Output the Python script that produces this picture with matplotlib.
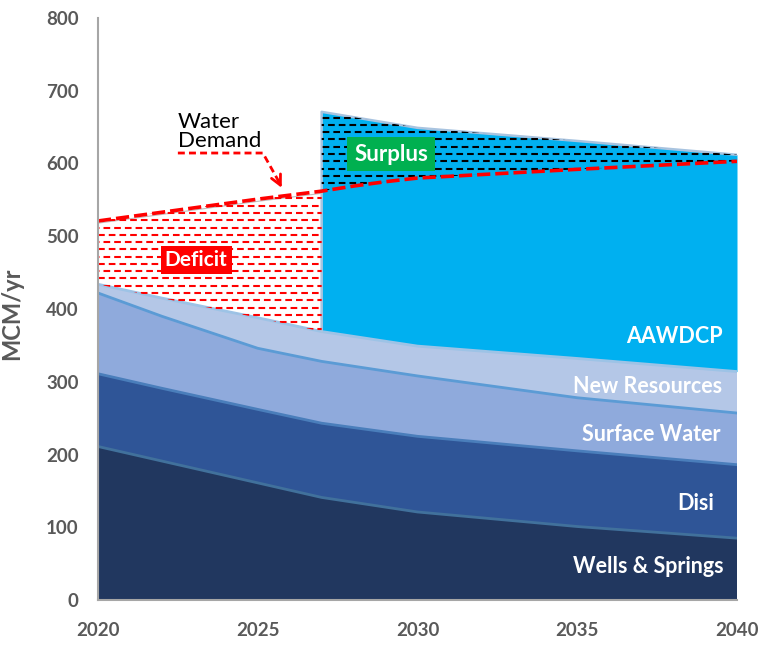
import numpy as np
import matplotlib
matplotlib.use("Agg")
import matplotlib.pyplot as plt
from matplotlib.patches import Polygon

plt.rcParams['font.family'] = ['Lato', 'DejaVu Sans']
plt.rcParams['lines.scale_dashes'] = False

# Datos (MCM/yr)
years = [2020, 2022, 2025, 2027, 2030, 2035, 2040]
wells = [211, 191, 161, 141, 121, 101, 85]
disi = [100, 100, 101, 102, 104, 104, 101]
surface = [111, 99, 84, 85, 83, 73, 71]
new_res = [12, 25, 42, 41, 41, 54, 57]

aawdcp_years = [2027, 2030, 2035, 2040]
aawdcp = [302, 300, 299, 298]

demand_years = [2020, 2025, 2027, 2028, 2029, 2030, 2035, 2040]
demand = [521, 551, 562, 569, 575, 580, 592, 603]

labels = ["Wells & Springs", "Disi", "Surface Water", "New Resources", "AAWDCP"]
colors = ["#21375F", "#2F5597", "#8FAADC", "#B4C7E7", "#00B0F0"]
edge_colors = ["#41719C", "#4A7EBB", "#5B9BD5", "#9DC3E6"]

fig = plt.figure(figsize=(7.65, 6.46), dpi=100)
ax = fig.add_axes([98/765, 46/646, 639/765, 582/646])

# Áreas apiladas
ax.stackplot(years, wells, disi, surface, new_res, colors=colors[:4], zorder=2)
tops = np.cumsum([wells, disi, surface, new_res], axis=0)
for top, ec in zip(tops, edge_colors):
    ax.plot(years, top, color=ec, lw=2, zorder=3)

# AAWDCP sobre New Resources desde 2027
base = np.interp(aawdcp_years, years, tops[-1])
aaw_top = base + np.array(aawdcp)
ax.fill_between(aawdcp_years, base, aaw_top, color=colors[4], zorder=2, lw=0)
ax.plot([aawdcp_years[0]] + aawdcp_years, [base[0]] + list(aaw_top),
        color="#A9C4E0", lw=1.8, zorder=3)

# Regiones de déficit y superávit
def_x = [y for y in demand_years if y <= 2027]
def_top = [d for y, d in zip(demand_years, demand) if y <= 2027]
nr_x = [y for y in years if y <= 2027]
nr_y = [t for y, t in zip(years, tops[-1]) if y <= 2027]
deficit = Polygon(list(zip(def_x, def_top)) + list(zip(nr_x[::-1], nr_y[::-1])),
                  closed=True, fc="white", ec="none", zorder=2)
ax.add_patch(deficit)
ax.plot(def_x, np.array(def_top) - 3, color="#BFBFBF", lw=0.8, zorder=3)

sur_x = [y for y in demand_years if y >= 2027]
sur_y = [d for y, d in zip(demand_years, demand) if y >= 2027]
surplus = Polygon(list(zip(aawdcp_years, aaw_top)) + list(zip(sur_x[::-1], sur_y[::-1])),
                  closed=True, fc="none", ec="none", zorder=2)
ax.add_patch(surplus)


def dash_fill(poly, color, levels):
    for i, h in enumerate(levels):
        off = 0 if i % 2 == 0 else 3.8
        ln, = ax.plot([2019, 2041], [h, h], color=color, lw=1.5,
                      linestyle=(off, (4.8, 2.9)), solid_capstyle='butt',
                      dash_capstyle='butt', zorder=4)
        ln.set_clip_path(poly)


dash_fill(deficit, "#FF0000", np.arange(2, 800, 10))
dash_fill(surplus, "black", np.arange(3, 800, 10))

# Demanda de agua
ax.plot(demand_years, demand, color="#FF0000", lw=2.6,
        linestyle=(0, (9.5, 3.6)), dash_capstyle='butt', zorder=6)

# Etiquetas de las series
lab_pos = [(2039.57, 46), (2039.28, 132), (2039.47, 227), (2039.52, 294), (2039.55, 362)]
for (x, y), lab in zip(lab_pos, labels):
    ax.text(x, y, lab, color="white", fontsize=15.5, fontweight="bold",
            ha="right", va="center", zorder=7)

ax.text(2023.07, 467, "Deficit", color="white", fontsize=15, fontweight="bold",
        ha="center", va="center", zorder=7,
        bbox=dict(boxstyle="square,pad=0.2", fc="#FF0000", ec="none"))
ax.text(2029.17, 613, "Surplus", color="white", fontsize=16, fontweight="bold",
        ha="center", va="center", zorder=7,
        bbox=dict(boxstyle="square,pad=0.3", fc="#00B050", ec="none"))

# Anotación "Water Demand"
ax.text(2022.5, 644, "Water\nDemand", color="black", fontsize=16,
        ha="left", va="center", linespacing=0.95, zorder=7)
ax.plot([2022.5, 2025.16, 2025.7], [614.4, 614.4, 572], color="#FF0000", lw=2,
        linestyle=(0, (5, 3)), zorder=7)
ax.annotate("", xy=(2025.79, 563), xytext=(2025.6, 580),
            arrowprops=dict(arrowstyle="->", color="#FF0000", lw=2,
                            mutation_scale=18), zorder=7)

# Ejes
ax.set_xlim(2020, 2040)
ax.set_ylim(0, 800)
ax.set_xticks([2020, 2025, 2030, 2035, 2040])
ax.set_yticks(np.arange(0, 801, 100))
ax.tick_params(length=0, labelsize=13.5, labelcolor="#595959")
ax.tick_params(axis="x", pad=16)
ax.tick_params(axis="y", pad=14)
for t in ax.get_xticklabels() + ax.get_yticklabels():
    t.set_fontweight("bold")
for s in ["top", "right"]:
    ax.spines[s].set_visible(False)
for s in ["left", "bottom"]:
    ax.spines[s].set_color("#A6A6A6")
    ax.spines[s].set_linewidth(1.5)
    ax.spines[s].set_zorder(8)
ax.set_ylabel("MCM/yr", fontsize=17, fontweight="bold", color="#595959")
ax.yaxis.set_label_coords(-0.117, 0.491)

fig.savefig("out.png", dpi=100)
